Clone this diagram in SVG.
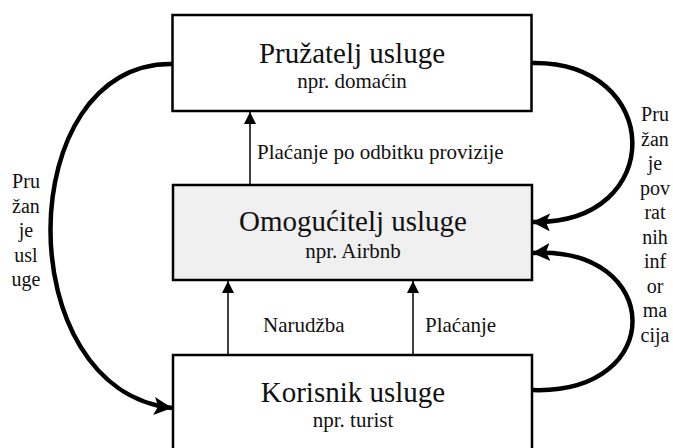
<svg xmlns="http://www.w3.org/2000/svg" width="673" height="448" viewBox="0 0 673 448" font-family="'Liberation Serif', 'Times New Roman', 'DejaVu Serif', serif">
<style>
.box{stroke:#000;stroke-width:2.5;fill:#fff}
.mid{fill:#f0f0f0}
text{font-family:'Liberation Serif','Times New Roman','DejaVu Serif',serif;fill:#111;text-anchor:middle}
.t{font-size:29px}
.s{font-size:21px}
.l{font-size:21px;text-anchor:start}
.v{font-size:20px}
.thin{stroke:#000;stroke-width:1.5;fill:none}
.thick{stroke:#000;stroke-width:4.5;fill:none}
</style>
<defs>
<marker id="sm" markerUnits="userSpaceOnUse" markerWidth="12" markerHeight="14" refX="12" refY="6" orient="auto">
<path d="M0,0 L12,6 L0,12 Z" fill="#000"/>
</marker>
<marker id="bg" markerUnits="userSpaceOnUse" markerWidth="20" markerHeight="20" refX="18" refY="9" orient="auto">
<path d="M0,0 L18,9 L0,18 L4,9 Z" fill="#000"/>
</marker>
</defs>
<g id="connectors">
<line class="thin" x1="250" y1="185" x2="250" y2="112" marker-end="url(#sm)"/>
<line class="thin" x1="228" y1="355" x2="228" y2="281" marker-end="url(#sm)"/>
<line class="thin" x1="413" y1="355" x2="413" y2="281" marker-end="url(#sm)"/>
<path class="thick" d="M172,64 C 12,62 8,390 172,408" marker-end="url(#bg)"/>
<path class="thick" d="M531,63 C 664,60 668,225 532,222" marker-end="url(#bg)"/>
<path class="thick" d="M532,390 C 668,395 664,245 532,253" marker-end="url(#bg)"/>
<text class="l" x="257" y="159">Plaćanje po odbitku provizije</text>
<text class="l" x="263" y="332">Narudžba</text>
<text class="l" x="425" y="332">Plaćanje</text>
<text class="v" x="26" y="188">Pru</text>
<text class="v" x="26" y="212.5">žan</text>
<text class="v" x="26" y="237">je</text>
<text class="v" x="26" y="261.5">usl</text>
<text class="v" x="26" y="286">uge</text>
<text class="v" x="655" y="121">Pru</text>
<text class="v" x="655" y="145.5">žan</text>
<text class="v" x="655" y="170">je</text>
<text class="v" x="655" y="194.5">pov</text>
<text class="v" x="655" y="219">rat</text>
<text class="v" x="655" y="243.5">nih</text>
<text class="v" x="655" y="268">inf</text>
<text class="v" x="655" y="292.5">or</text>
<text class="v" x="655" y="317">ma</text>
<text class="v" x="655" y="341.5">cija</text>
</g>
<g id="pruzatelj">
<rect class="box" x="172.5" y="15" width="359" height="96"/>
<text class="t" x="352" y="63">Pružatelj usluge</text>
<text class="s" x="352" y="88">npr. domaćin</text>
</g>
<g id="omogucitelj">
<rect class="box mid" x="173" y="185" width="359" height="95"/>
<text class="t" x="353" y="231">Omogućitelj usluge</text>
<text class="s" x="353" y="258">npr. Airbnb</text>
</g>
<g id="korisnik">
<rect class="box" x="173" y="355" width="359" height="120"/>
<text class="t" x="353" y="402">Korisnik usluge</text>
<text class="s" x="353" y="427">npr. turist</text>
</g>
</svg>
